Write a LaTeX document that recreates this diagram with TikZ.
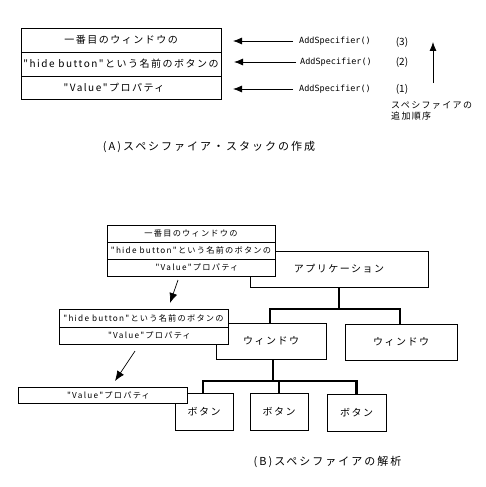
\documentclass[tikz,border=0pt]{standalone}
\usepackage{fontspec}
\setmainfont{Noto Sans CJK JP}
\newfontfamily\jpsp[LetterSpace=15]{Noto Sans CJK JP}
\newfontfamily\jpcap[LetterSpace=18]{Noto Sans CJK JP}
\newfontfamily\monof{DejaVu Sans Mono}
\usetikzlibrary{arrows.meta}
\begin{document}
\begin{tikzpicture}[x=1pt,y=-1pt,
  boxbase/.style={draw, line width=0.8pt, fill=white, inner sep=0pt, anchor=center},
  rowA/.style={boxbase, minimum width=200pt, font=\jpsp\fontsize{10}{12}\selectfont},
  rowB/.style={boxbase, minimum width=168pt, minimum height=17pt, font=\jpsp\fontsize{8.2}{10}\selectfont},
  bigbox/.style={boxbase, minimum height=36pt, font=\jpsp\fontsize{10}{12}\selectfont},
  spec/.style={anchor=west, inner sep=0pt, font=\monof\fontsize{8.5}{10}\selectfont},
  num/.style={inner sep=0pt, font=\fontsize{10}{12}\selectfont},
  small/.style={inner sep=0pt, font=\jpsp\fontsize{9}{11.5}\selectfont},
  captext/.style={inner sep=0pt, font=\jpcap\fontsize{11}{13}\selectfont},
  arr/.style={line width=0.8pt, -{Latex[length=9pt,width=7pt]}},
  arrB/.style={line width=0.7pt, -{Latex[length=10pt,width=8pt]}},
  tree/.style={line width=2.2pt}
]
\useasboundingbox (0,0) rectangle (486,487);

% ---------- (A) ----------
\node[rowA, minimum height=24pt] (s1) at (121,40) {一番目のウィンドウの};
\node[rowA, minimum height=24pt] (s2) at (121,64) {"hide button"という名前のボタンの};
\node[rowA, minimum height=23pt] (s3) at (121,87.5) {"Value"プロパティ\hspace*{14pt}};

\node[spec] (a3) at (299,41) {AddSpecifier()};
\node[spec] (a2) at (300,62) {AddSpecifier()};
\node[spec] (a1) at (299,89) {AddSpecifier()};
\coordinate (t3) at (233,41);
\coordinate (t2) at (234,62);
\coordinate (t1) at (233,89);
\draw[arr] ([xshift=-6pt]a3.west) -- (t3);
\draw[arr] ([xshift=-4pt]a2.west) -- (t2);
\draw[arr] ([xshift=-6pt]a1.west) -- (t1);

\node[num] (n3) at (402,42) {(3)};
\node[num] (n2) at (402,62) {(2)};
\node[num] (n1) at (402,89) {(1)};

\coordinate (u0) at (433,83);
\coordinate (u1) at (433,42);
\draw[arr] (u0) -- (u1);
\node[small, anchor=north west, align=left] (ord) at (391,101) {スペシファイアの\\追加順序};

\node[captext] (capA) at (209,147) {(A)スペシファイア・スタックの作成};

% ---------- (B) ----------
\node[bigbox, minimum width=178pt] (app) at (339,269) {アプリケーション};
\node[rowB] (b11) at (191,233.5) {一番目のウィンドウの};
\node[rowB] (b12) at (191,250.5) {"hide button"という名前のボタンの};
\node[rowB] (b13) at (191,267.5) {\hspace*{12pt}"Value"プロパティ};

\node[bigbox, minimum width=110pt] (w1) at (271,341) {ウィンドウ};
\node[bigbox, minimum width=112pt] (w2) at (401,342) {ウィンドウ};

\coordinate (j1) at (339,309);
\draw[tree] (app.south) -- (j1);
\draw[tree] (j1) -| ([xshift=-1pt]w1.north);
\draw[tree] (j1) -| ([xshift=-1pt]w2.north);

\node[rowB, minimum width=169pt, minimum height=18pt] (b21) at (143.5,318) {"hide button"という名前のボタンの};
\node[rowB, minimum width=169pt] (b22) at (143.5,335.5) {\hspace*{12pt}"Value"プロパティ};

\node[bigbox, minimum width=58pt, minimum height=37pt] (k1) at (204,411.5) {ボタン};
\node[bigbox, minimum width=58pt, minimum height=37pt] (k2) at (279,411.5) {ボタン};
\node[bigbox, minimum width=59pt, minimum height=37pt] (k3) at (356.5,412.5) {ボタン};

\coordinate (j2) at (273,381);
\draw[tree] (j2 |- w1.south) -- (j2);
\draw[tree] (j2) -| ([xshift=-1pt]k1.north);
\draw[tree] (j2) -| (k2.north);
\draw[tree] (j2) -| (k3.north);

\node[rowB, minimum width=169pt, minimum height=16pt] (b31) at (102.5,395) {\hspace*{12pt}"Value"プロパティ};

\coordinate (d1s) at (178,280);
\coordinate (d1e) at (170,303);
\draw[arrB] (d1s) -- (d1e);
\coordinate (d2s) at (135,351);
\coordinate (d2e) at (115,381);
\draw[arrB] (d2s) -- (d2e);

\node[captext] (capB) at (327.5,462) {(B)スペシファイアの解析};
\end{tikzpicture}
\end{document}
